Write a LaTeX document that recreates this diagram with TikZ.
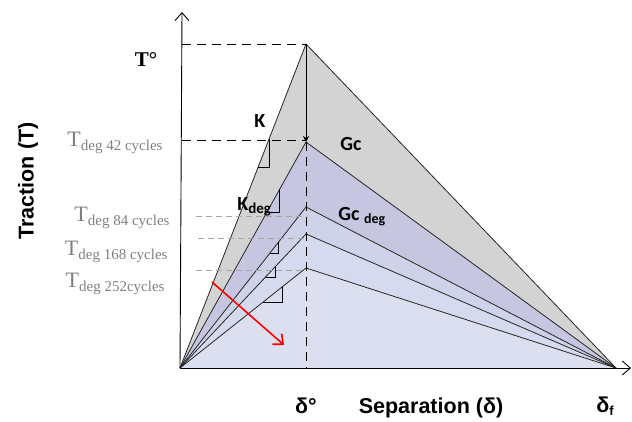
\documentclass[tikz,border=0pt]{standalone}
\usepackage{fontspec}
\setmainfont{Liberation Serif}
\newfontfamily\arialf{Liberation Sans}
\newfontfamily\calf{Carlito}
\usetikzlibrary{calc,arrows.meta}
\definecolor{tgray}{RGB}{211,211,211}
\definecolor{lav}{RGB}{198,198,225}
\definecolor{lavb}{RGB}{206,211,234}
\definecolor{lavc}{RGB}{214,218,238}
\definecolor{lavd}{RGB}{220,223,239}
\definecolor{lblgray}{RGB}{128,128,128}

\newcommand{\tdeg}[1]{{\fontsize{22}{22}\selectfont T}\raisebox{-4pt}{\fontsize{15}{15}\selectfont #1}}

\begin{document}
\begin{tikzpicture}[x=1pt,y=-1pt,line width=0.9pt,
          ln/.style={draw=black!85,line width=0.8pt},
          dsh/.style={dash pattern=on 9pt off 6pt},
          gdsh/.style={draw=gray!70,line width=0.9pt,dash pattern=on 6pt off 4pt},
          ttl/.style={font=\arialf\bfseries\fontsize{21.5}{22}\selectfont},
          cal/.style={font=\calf\bfseries\fontsize{20}{20}\selectfont,inner sep=0pt},
          tlab/.style={text=lblgray,anchor=base east,inner sep=0pt}]
        \useasboundingbox (0,0) rectangle (632,421);
        \coordinate (O) at (180,368);
        \coordinate (df) at (616,368);
        \coordinate (p0) at (306,44);
        \coordinate (p1) at (306,142);
        \coordinate (p2) at (306,207);
        \coordinate (p3) at (306,234);
        \coordinate (p4) at (306,268);
        % areas under the curves
        \fill[tgray] (O) -- (p0) -- (df) -- cycle;
        \fill[lav] (O) -- (p1) -- (df) -- cycle;
        \fill[lavb] (O) -- (p2) -- (df) -- cycle;
        \fill[lavc] (O) -- (p3) -- (df) -- cycle;
        \fill[lavd] (O) -- (p4) -- (df) -- cycle;
        \foreach \p in {p0,p1,p2,p3,p4}
          \draw[ln] (O) -- (\p) -- (df);
        % axes
        \coordinate (ytop) at (182,12);
        \coordinate (xend) at (631,368);
        \draw[-{Straight Barb[length=8pt,width=14pt]}] (O) -- (ytop);
        \draw[-{Straight Barb[length=8pt,width=14pt]}] (O) -- (xend);
        % levels
        \draw[dsh] (182,44) -- (p0);
        \draw[dsh] (182,140) -- (306,140);
        \draw[-{Stealth[length=6pt,width=6pt]}] (p0) -- (p1);
        \draw[dsh] (p1) -- (306,368);
        \draw[gdsh] (196,216) -- (306,216);
        \draw[gdsh] (198,238) -- (306,238);
        \draw[gdsh] (196,270) -- (306,270);
        % stiffness marks
        \foreach \p/\a/\b in {p0/0.62/0.707,p1/0.69/0.792,p2/0.714/0.783,p3/0.672/0.754,p4/0.66/0.81}
          \draw[line width=1pt] ($(O)!\a!(\p)$) -| ($(O)!\b!(\p)$);
        \draw[red,line width=1.6pt,-{Straight Barb[length=8pt,width=14pt]}] (212,282) -- (284,345);
        % labels
        \node[font=\bfseries\fontsize{21}{21}\selectfont] (t0) at (146,60) {T°};
        \node[tlab] (t42) at (163,146) {\tdeg{deg 42 cycles}};
        \node[tlab] (t84) at (170,221) {\tdeg{deg 84 cycles}};
        \node[tlab] (t168) at (168,255) {\tdeg{deg 168 cycles}};
        \node[tlab] (t252) at (165,287) {\tdeg{deg 252cycles}};
        \node[cal,anchor=base west] (k) at (254,127) {K};
        \node[cal,anchor=base west] (kdeg) at (237,210) {K\raisebox{-3pt}{\fontsize{15}{15}\selectfont deg}};
        \node[cal,anchor=base west] (gc) at (340,150) {Gc};
        \node[cal,anchor=base west] (gcdeg) at (338,220) {Gc {\fontsize{14}{14}\selectfont\raisebox{-3pt}{deg}}};
        \node[ttl,rotate=90] (trac) at (28,181) {Traction (T)};
        \node[ttl] (d0) at (306,406) {δ°};
        \node[ttl] (sep) at (431,408) {Separation (δ)};
        \node[ttl] (dfl) at (605,406) {δ\raisebox{-3pt}{\fontsize{13}{13}\selectfont f}};
      \end{tikzpicture}
\end{document}
